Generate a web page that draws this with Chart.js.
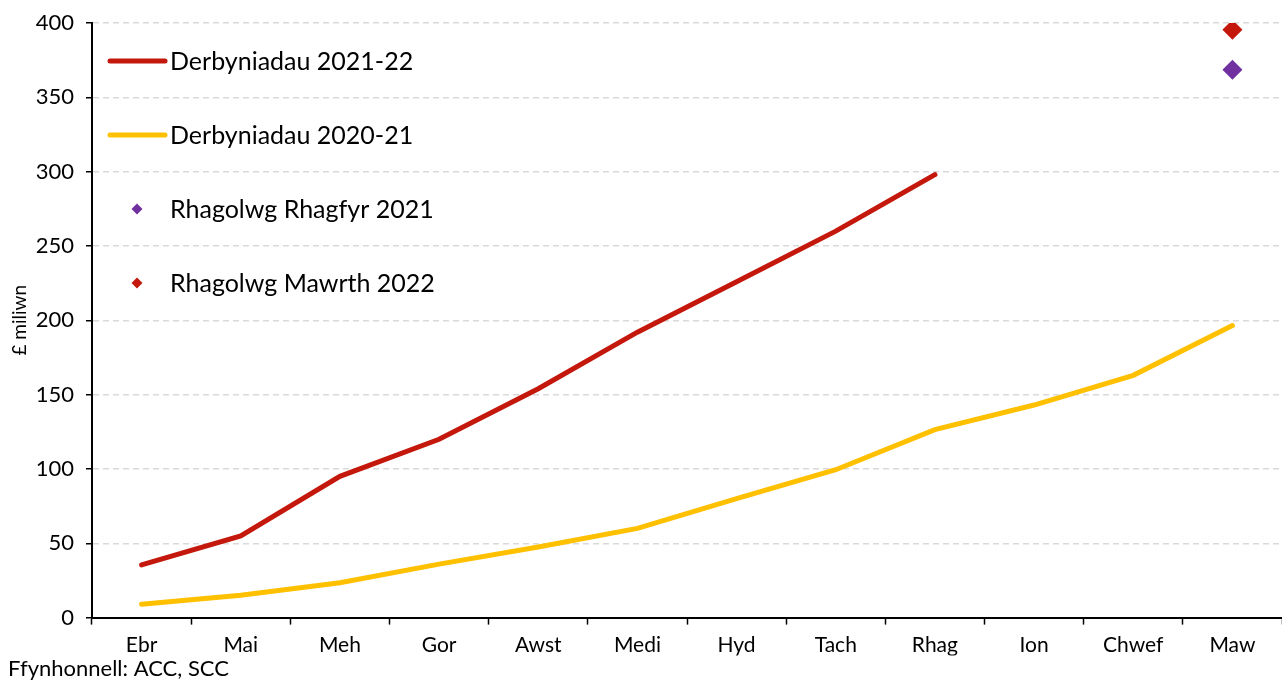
<!DOCTYPE html>
<html lang="cy">
<head>
    <meta charset="UTF-8">
    <title>Derbyniadau</title>
    <script src="https://cdn.jsdelivr.net/npm/chart.js"></script>
    <style>
        html, body { margin: 0; padding: 0; background: #ffffff; overflow: hidden; }
        .chart-container { position: relative; width: 1282px; height: 682px; }
    </style>
</head>
<body>

<div class="chart-container">
    <canvas id="grafico"></canvas>
</div>

<script>
    const misoedd = ['Ebr', 'Mai', 'Meh', 'Gor', 'Awst', 'Medi', 'Hyd', 'Tach', 'Rhag', 'Ion', 'Chwef', 'Maw'];
    const derbyniadau2122 = [35.5, 55, 95, 120, 154, 192, 226, 260, 298, null, null, null];
    const derbyniadau2021 = [9, 15, 23.5, 36, 47.5, 60, 80, 99.5, 126.5, 143, 163, 196.5];
    const rhagolwgRhagfyr = [null, null, null, null, null, null, null, null, null, null, null, 368.5];
    const rhagolwgMawrth = [null, null, null, null, null, null, null, null, null, null, null, 395.5];
    const ticiauY = [0, 50, 100, 150, 200, 250, 300, 350, 400];

    const ffont = 'Lato, "Noto Sans", sans-serif';

    // legend drawn inside the plot area, on the left
    const allweddPlugin = {
        id: 'allwedd',
        afterDraw(chart) {
            const ctx = chart.ctx;
            const x0 = chart.chartArea.left + 18;
            const y0 = chart.chartArea.top + 38;
            const cam = 74;
            ctx.save();
            ctx.font = '25px ' + ffont;
            ctx.textBaseline = 'middle';
            chart.data.datasets.forEach((ds, i) => {
                const y = y0 + i * cam;
                if (ds.showLine === false) {
                    ctx.fillStyle = ds.backgroundColor;
                    ctx.beginPath();
                    ctx.moveTo(x0 + 27, y - 5.5);
                    ctx.lineTo(x0 + 32.5, y);
                    ctx.lineTo(x0 + 27, y + 5.5);
                    ctx.lineTo(x0 + 21.5, y);
                    ctx.closePath();
                    ctx.fill();
                } else {
                    ctx.strokeStyle = ds.borderColor;
                    ctx.lineWidth = 5;
                    ctx.lineCap = 'round';
                    ctx.beginPath();
                    ctx.moveTo(x0, y);
                    ctx.lineTo(x0 + 55, y);
                    ctx.stroke();
                }
                ctx.fillStyle = '#000000';
                ctx.fillText(ds.label, x0 + 60, y + 1);
            });
            ctx.restore();
        }
    };

    const ctx = document.getElementById('grafico').getContext('2d');
    new Chart(ctx, {
        type: 'line',
        data: {
            labels: misoedd,
            datasets: [{
                label: 'Derbyniadau 2021-22',
                data: derbyniadau2122,
                borderColor: '#c4180c',
                backgroundColor: '#c4180c',
                borderWidth: 5,
                pointRadius: 0,
                borderCapStyle: 'round',
                tension: 0
            }, {
                label: 'Derbyniadau 2020-21',
                data: derbyniadau2021,
                borderColor: '#ffc000',
                backgroundColor: '#ffc000',
                borderWidth: 5,
                pointRadius: 0,
                borderCapStyle: 'round',
                tension: 0
            }, {
                label: 'Rhagolwg Rhagfyr 2021',
                data: rhagolwgRhagfyr,
                showLine: false,
                pointStyle: 'rectRot',
                pointRadius: 10,
                borderWidth: 0,
                backgroundColor: '#7030a0',
                borderColor: '#7030a0'
            }, {
                label: 'Rhagolwg Mawrth 2022',
                data: rhagolwgMawrth,
                showLine: false,
                pointStyle: 'rectRot',
                pointRadius: 10,
                borderWidth: 0,
                backgroundColor: '#c4180c',
                borderColor: '#c4180c'
            }]
        },
        options: {
            responsive: true,
            maintainAspectRatio: false,
            animation: false,
            layout: { autoPadding: false, padding: { top: 23, right: 0, left: 8, bottom: 0 } },
            plugins: {
                legend: { display: false },
                tooltip: { enabled: false },
                title: {
                    display: true,
                    text: 'Ffynhonnell: ACC, SCC',
                    position: 'bottom',
                    align: 'start',
                    color: '#000000',
                    font: { family: ffont, size: 22, weight: 'normal' },
                    padding: { top: 0, bottom: 0 }
                }
            },
            scales: {
                x: {
                    offset: true,
                    grid: {
                        offset: true,
                        drawOnChartArea: false,
                        tickLength: 7,
                        tickColor: '#000000',
                        tickWidth: 1.5
                    },
                    border: { color: '#000000', width: 2 },
                    ticks: {
                        color: '#000000',
                        font: { family: ffont, size: 21 },
                        padding: 8,
                        maxRotation: 0,
                        autoSkip: false
                    },
                    afterFit(scale) {
                        scale.height = 38;
                        scale.paddingLeft = 0;
                        scale.paddingRight = 0;
                    }
                },
                y: {
                    min: 0,
                    max: 400,
                    afterBuildTicks(scale) {
                        scale.ticks = ticiauY.map(v => ({ value: v }));
                    },
                    grid: {
                        color: '#d9d9d9',
                        lineWidth: 1.5,
                        tickLength: 6,
                        tickColor: '#000000',
                        tickWidth: 1.5
                    },
                    border: { color: '#000000', width: 2, dash: [6, 4] },
                    ticks: {
                        color: '#000000',
                        font: { family: ffont, size: 22 },
                        padding: 12
                    },
                    title: {
                        display: true,
                        text: '£ miliwn',
                        color: '#000000',
                        font: { family: ffont, size: 19 },
                        padding: { top: 0, bottom: 6 }
                    },
                    afterFit(scale) {
                        scale.width = 84;
                        scale.paddingTop = 0;
                        scale.paddingBottom = 0;
                    }
                }
            }
        },
        plugins: [allweddPlugin]
    });
</script>

</body>
</html>
